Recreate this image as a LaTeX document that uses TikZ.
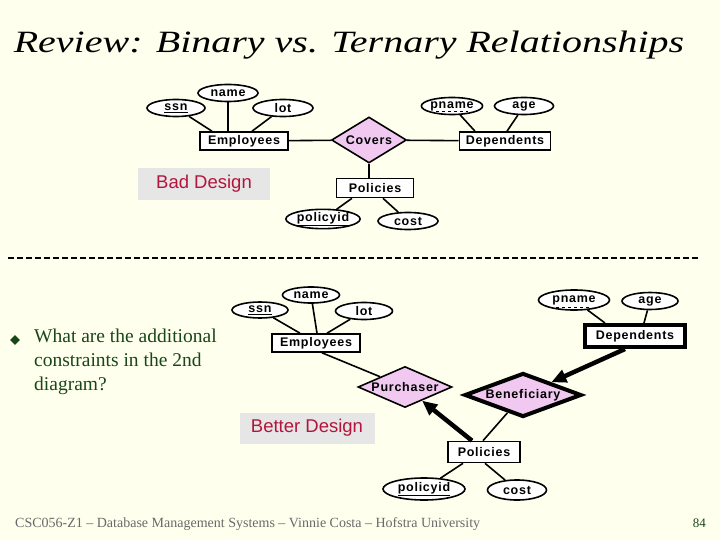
\documentclass[tikz,border=0pt]{standalone}
\usepackage{fontspec}
\setmainfont{Liberation Serif}
\newfontfamily\ersans[LetterSpace=6]{Liberation Sans}
\newfontfamily\notesans{Liberation Sans}
\usetikzlibrary{shapes.geometric,arrows.meta}
\definecolor{slidebg}{RGB}{255,255,238}
\definecolor{relpink}{RGB}{240,200,240}
\definecolor{notered}{RGB}{180,20,60}
\definecolor{notegray}{RGB}{230,230,230}
\definecolor{bulletgreen}{RGB}{25,70,25}
\definecolor{footgray}{RGB}{105,105,105}
\tikzset{
  erlabel/.style={font=\ersans\bfseries\fontsize{12.5}{13}\selectfont},
  attr/.style={ellipse,draw,line width=1.6pt,fill=white,inner sep=0pt,erlabel},
  ent/.style={rectangle,draw,line width=1.6pt,fill=white,inner sep=0pt,minimum height=18pt,erlabel},
  weakent/.style={ent,line width=4pt},
  rel/.style={diamond,draw,line width=1.6pt,fill=relpink,inner sep=0pt,label={[erlabel]center:#1}},
  keyrel/.style={rel=#1,line width=4pt},
  conn/.style={line width=1.6pt},
  keyconn/.style={line width=4.5pt,-{Triangle[length=15pt,width=13pt]}},
  notebox/.style={fill=notegray,text=notered,inner sep=0pt,font=\notesans\fontsize{18.5}{20}\selectfont}
}
\begin{document}
\begin{tikzpicture}[x=1pt,y=-1pt]
  \fill[slidebg] (0,0) rectangle (720,540);
  \useasboundingbox (0,0) rectangle (720,540);
  \node[anchor=base] (title) at (349,53) {\fontsize{31}{36}\selectfont\itshape\scalebox{1.29}[1]{Review: Binary vs. Ternary Relationships}};
  % bad design
  \node[attr,minimum width=58pt,minimum height=17pt] (ssn1) at (176,108) {\underline{ssn}};
  \node[attr,minimum width=60pt,minimum height=17pt] (name1) at (228,93) {name};
  \node[attr,minimum width=60pt,minimum height=17pt] (lot1) at (283,108) {lot};
  \node[ent,minimum width=88pt] (emp1) at (244,141) {Employees};
  \node[rel=Covers,minimum width=75pt,minimum height=46pt] (cov) at (369,140) {};
  \node[ent,minimum width=91pt] (dep1) at (505,141) {Dependents};
  \node[attr,minimum width=59pt,minimum height=17pt] (pn1) at (452,106) {pname};
  \node[attr,minimum width=59pt,minimum height=17pt] (age1) at (524,106) {age};
  \node[ent,minimum width=77pt,minimum height=19pt] (pol1) at (375,188) {Policies};
  \node[attr,minimum width=74pt,minimum height=18pt] (pid1) at (323,219) {\underline{policyid}};
  \node[attr,minimum width=60pt,minimum height=17pt] (cost1) at (408,221) {cost};
  \node[notebox,minimum width=132pt,minimum height=32pt] (bad) at (204,184) {Bad Design};
  \draw[conn] (ssn1) -- ([xshift=-32pt]emp1.north);
  \draw[conn] (name1) -- ([xshift=-16pt]emp1.north);
  \draw[conn] (lot1) -- ([xshift=8pt]emp1.north);
  \draw[conn] (emp1) -- (cov);
  \draw[conn] (cov) -- (dep1);
  \draw[conn] (pn1) -- ([xshift=-30pt]dep1.north);
  \draw[conn] (age1) -- ([xshift=2pt]dep1.north);
  \draw[conn] (cov.south) -- (cov.south |- pol1.north);
  \draw[conn] ([xshift=-23pt]pol1.south) -- (pid1);
  \draw[conn] ([xshift=8pt]pol1.south) -- (cost1);
  \draw[line width=1pt,dashed] ([xshift=-16pt,yshift=-6pt]pn1.center) -- ([xshift=16pt,yshift=-6pt]pn1.center);
  \draw[line width=2.5pt,dash pattern=on 6pt off 3pt] (8,258) -- (700,258);
  % better design
  \node[attr,minimum width=56pt,minimum height=16pt] (ssn2) at (260,310) {\underline{ssn}};
  \node[attr,minimum width=57pt,minimum height=16pt] (name2) at (311,295) {name};
  \node[attr,minimum width=57pt,minimum height=17pt] (lot2) at (364,311) {lot};
  \node[ent,minimum width=88pt] (emp2) at (316,343) {Employees};
  \node[rel=Purchaser,minimum width=94pt,minimum height=41pt] (pur) at (405,387) {};
  \node[keyrel=Beneficiary,minimum width=117pt,minimum height=44pt] (ben) at (523,395) {};
  \node[weakent,minimum width=100pt,minimum height=22pt] (dep2) at (635,336) {Dependents};
  \node[attr,minimum width=71pt,minimum height=20pt] (pn2) at (574,300) {pname};
  \node[attr,minimum width=56pt,minimum height=17pt] (age2) at (650,301) {age};
  \node[ent,minimum width=72pt,minimum height=21pt] (pol2) at (484,452) {Policies};
  \node[attr,minimum width=82pt,minimum height=22pt] (pid2) at (424,489) {\underline{policyid}};
  \node[attr,minimum width=59pt,minimum height=20pt] (cost2) at (517,490) {cost};
  \node[notebox,minimum width=135pt,minimum height=31pt] (better) at (307,428) {Better Design};
  \draw[conn] (ssn2) -- ([xshift=-16pt]emp2.north);
  \draw[conn] (name2) -- ([xshift=1pt]emp2.north);
  \draw[conn] (lot2) -- ([xshift=11pt]emp2.north);
  \draw[conn] ([xshift=6pt]emp2.south) -- (pur);
  \draw[conn] (pn2) -- ([xshift=-30pt]dep2.north);
  \draw[conn] (age2) -- ([xshift=9pt]dep2.north);
  \draw[keyconn] ([xshift=-10pt]dep2.south) -- (ben);
  \draw[keyconn] ([xshift=-12pt]pol2.north) -- (pur);
  \draw[conn] ([xshift=-1pt]pol2.north) -- (ben);
  \draw[conn] ([xshift=-21pt]pol2.south) -- (pid2);
  \draw[conn] ([xshift=1pt]pol2.south) -- (cost2);
  \draw[line width=1pt,dashed] ([xshift=-18pt,yshift=-7pt]pn2.center) -- ([xshift=18pt,yshift=-7pt]pn2.center);
  % question and footer
  \node[diamond,fill=bulletgreen,inner sep=0pt,minimum size=10pt] (bul) at (15,340) {};
  \node[anchor=north west,align=left,text=bulletgreen,inner sep=0pt,font=\fontsize{19.5}{24}\selectfont] (quest) at (34,329) {What are the additional\\constraints in the 2nd\\diagram?};
  \node[anchor=base west,text=footgray,inner sep=0pt,font=\fontsize{14}{15}\selectfont] (foot) at (15,527) {CSC056-Z1 -- Database Management Systems -- Vinnie Costa -- Hofstra University};
  \node[anchor=base east,text=bulletgreen,inner sep=0pt,font=\fontsize{13}{14}\selectfont] (page) at (706,527) {84};
\end{tikzpicture}
\end{document}
